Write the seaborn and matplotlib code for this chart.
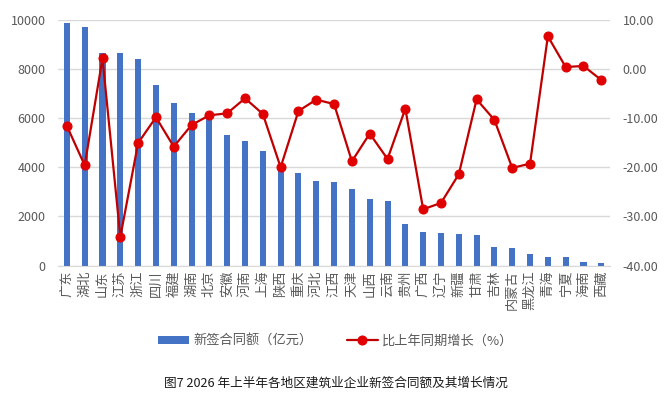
import numpy as np
import pandas as pd
import matplotlib
matplotlib.use("Agg")
import matplotlib.pyplot as plt
import seaborn as sns
from matplotlib.ticker import FormatStrFormatter

regions = ["广东", "湖北", "山东", "江苏", "浙江", "四川", "福建", "湖南", "北京", "安徽",
           "河南", "上海", "陕西", "重庆", "河北", "江西", "天津", "山西", "云南", "贵州",
           "广西", "辽宁", "新疆", "甘肃", "吉林", "内蒙古", "黑龙江", "青海", "宁夏", "海南", "西藏"]
# new contract value (100 million yuan)
contract = [9890, 9715, 8660, 8655, 8410, 7355, 6620, 6200, 6050, 5320,
            5075, 4670, 4000, 3770, 3445, 3405, 3120, 2700, 2630, 1700,
            1370, 1330, 1290, 1235, 745, 720, 490, 340, 340, 150, 95]
# growth vs same period last year (%)
growth = [-11.57, -19.58, 2.20, -34.17, -15.03, -9.81, -15.78, -11.37, -9.40, -9.00,
          -5.94, -9.13, -19.99, -8.52, -6.21, -7.12, -18.77, -13.13, -18.29, -8.05,
          -28.53, -27.25, -21.41, -6.15, -10.35, -20.12, -19.24, 6.68, 0.43, 0.64, -2.21]

df = pd.DataFrame({"region": regions, "contract": contract, "growth": growth,
                   "pos": np.arange(len(regions))})

sns.set_style("white")
plt.rcParams['font.family'] = ['Noto Sans CJK SC', 'DejaVu Sans']

grey = "#595959"
fig = plt.figure(figsize=(6.71, 4), dpi=100)
ax = fig.add_axes([0.0864, 0.336, 0.823, 0.614])

sns.barplot(data=df, x="region", y="contract", color="#4472C4", width=0.34,
            saturation=1, linewidth=0, ax=ax, label="新签合同额（亿元）")
ax.set_ylim(0, 10000)
ax.set_yticks(np.arange(0, 10001, 2000))
ax.set_xlim(-0.5, len(regions) - 0.5)
ax.grid(axis="y", color="#D9D9D9", linewidth=1)
ax.set_axisbelow(True)
ax.set_xlabel("")
ax.set_ylabel("")
ax.tick_params(axis="both", length=0, labelsize=9, labelcolor=grey)
ax.tick_params(axis="y", pad=9)
plt.setp(ax.get_xticklabels(), rotation=90, fontsize=9.5)
for s in ["left", "right", "top"]:
    ax.spines[s].set_visible(False)
ax.spines["bottom"].set_color("#D9D9D9")

ax2 = ax.twinx()
sns.lineplot(data=df, x="pos", y="growth", color="#C00000", linewidth=1.6,
             marker="o", markersize=6.5, markerfacecolor="#E00000",
             markeredgecolor="#E00000", ax=ax2, label="比上年同期增长（%）")
ax2.set_ylim(-40, 10)
ax2.set_yticks(np.arange(-40, 11, 10))
ax2.yaxis.set_major_formatter(FormatStrFormatter("%.2f"))
ax2.set_ylabel("")
ax2.tick_params(axis="y", length=0, labelsize=9, labelcolor=grey, pad=9)
for s in ["left", "right", "top", "bottom"]:
    ax2.spines[s].set_visible(False)
ax2.get_legend().remove()

h1, l1 = ax.get_legend_handles_labels()
h2, l2 = ax2.get_legend_handles_labels()
if ax.get_legend() is not None:
    ax.get_legend().remove()
fig.legend(h1 + h2, l1 + l2, loc="center", bbox_to_anchor=(0.5, 0.148), ncol=2,
           frameon=False, fontsize=9.5, labelcolor=grey, handlelength=2.35,
           handleheight=0.55, handletextpad=0.3, columnspacing=2.6)

fig.text(0.5, 0.042, "图7 2026 年上半年各地区建筑业企业新签合同额及其增长情况",
         ha="center", va="center", fontsize=9.1, fontweight="medium", color="#1a1a1a")

fig.savefig("out.png", dpi=100)
